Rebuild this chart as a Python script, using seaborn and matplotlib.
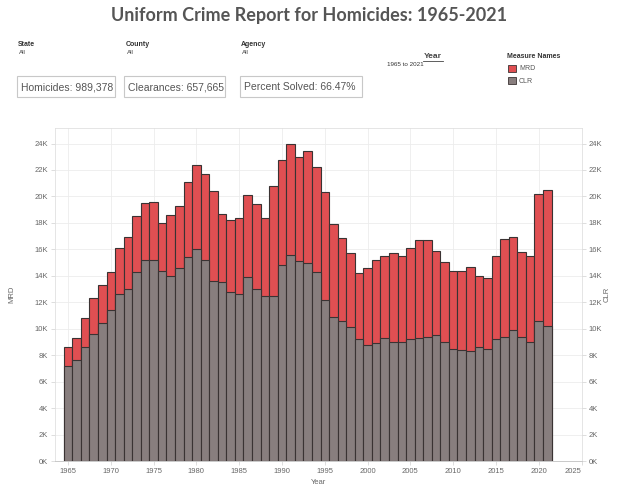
"""
Purpose: Uniform Crime Report homicides vs clearances, 1965-2021
"""

# Dependencies
import numpy as np
import pandas as pd
import seaborn as sns
import matplotlib.pyplot as plt
from matplotlib.patches import Rectangle
from matplotlib.ticker import FuncFormatter

# Data (counts per year)
years = list(range(1965, 2022))
mrd = [8600, 9300, 10800, 12300, 13300, 14300, 16100, 16900, 18500, 19500,
       19600, 18000, 18600, 19300, 21100, 22400, 21700, 20400, 18700, 18200,
       18400, 20100, 19400, 18400, 20800, 22750, 24000, 23000, 23400, 22200,
       20300, 17900, 16850, 15700, 14200, 14600, 15200, 15500, 15700, 15500,
       16100, 16700, 16700, 15900, 15050, 14400, 14400, 14700, 13950, 13800,
       15500, 16800, 16900, 15800, 15500, 20150, 20500]
clr = [7200, 7600, 8600, 9600, 10450, 11400, 12600, 13000, 14300, 15200,
       15200, 14400, 14000, 14600, 15400, 16000, 15200, 13600, 13500, 12750,
       12650, 13900, 13000, 12450, 12450, 14850, 15600, 15100, 15000, 14300,
       12200, 10900, 10600, 10100, 9200, 8750, 8950, 9300, 9000, 9000,
       9200, 9300, 9400, 9500, 9000, 8500, 8400, 8350, 8650, 8500,
       9200, 9400, 9900, 9400, 9000, 10600, 10200]
year_ticks = list(range(1965, 2030, 5))
y_ticks = list(range(0, 26000, 2000))

filters = ['State', 'County', 'Agency']
kpi_labels = ['Homicides: 989,378', 'Clearances: 657,665', 'Percent Solved: 66.47%']
measure_names = ['MRD', 'CLR']

df = pd.DataFrame({'year': years, 'MRD': mrd, 'CLR': clr})

# Colours
red = '#e04f52'
grey = '#887e7e'
edge = '#3a3333'
text_grey = '#666666'

W, H = 618, 494
plt.rcParams['font.family'] = ['Liberation Sans', 'DejaVu Sans']
fig = plt.figure(figsize=(W / 100, H / 100), dpi=100)


def px(x, y):
    return x / W, 1 - y / H


# Title
fig.text(*px(309, 16), 'Uniform Crime Report for Homicides: 1965-2021',
         ha='center', va='center', fontsize=13, fontweight='bold',
         color='#555555', family=['Lato', 'DejaVu Sans'])

# Filter cards
for label, x in zip(filters, [18, 126, 241]):
    fig.text(*px(x, 44), label, ha='left', va='center', fontsize=5,
             fontweight='bold', color='#333333')
    fig.text(*px(x + 1, 52), 'All', ha='left', va='center', fontsize=4.5,
             color='#444444')

# KPI boxes
for label, (x0, x1) in zip(kpi_labels, [(17, 115), (124, 225), (240, 362)]):
    fig.patches.append(Rectangle(px(x0, 97), (x1 - x0) / W, 21 / H,
                                 transform=fig.transFigure, fill=False,
                                 edgecolor='#c8c8c8', linewidth=0.8))
    fig.text(*px(x0 + 4, 87), label, ha='left', va='center', fontsize=7.5,
             color='#555555')

# Year filter
fig.text(*px(433, 57), 'Year', ha='center', va='center', fontsize=6,
         fontweight='bold', color='#444444')
fig.add_artist(plt.Line2D([423 / W, 443 / W], [1 - 61 / H, 1 - 61 / H],
                          color='#444444', linewidth=0.6))
fig.text(*px(387, 65), '1965 to 2021', ha='left', va='center', fontsize=4.5,
         color='#333333')

# Legend
fig.text(*px(507, 57), 'Measure Names', ha='left', va='center', fontsize=5,
         fontweight='bold', color='#333333')
for name, col, y in zip(measure_names, [red, grey], [69, 81]):
    fig.patches.append(Rectangle(px(508, y + 3.5), 7.5 / W, 7 / H,
                                 transform=fig.transFigure, facecolor=col,
                                 edgecolor=edge, linewidth=0.6))
    fig.text(*px(519, y), name, ha='left', va='center', fontsize=5,
             color='#555555')

# Main chart
ax = fig.add_axes([55 / W, 1 - 461 / H, (582 - 55) / W, (461 - 128.3) / H])
sns.barplot(data=df, x='year', y='MRD', native_scale=True, width=1,
            color=red, saturation=1, edgecolor=edge, linewidth=0.8,
            errorbar=None, ax=ax, zorder=2)
sns.barplot(data=df, x='year', y='CLR', native_scale=True, width=1,
            color=grey, saturation=1, edgecolor=edge, linewidth=0.8,
            errorbar=None, ax=ax, zorder=3)

ax.set_xlim(1963.48, 2025.05)
ax.set_ylim(0, 25150)
ax.set_xticks(year_ticks)
ax.set_xticklabels([str(y) for y in year_ticks])
ax.get_xticklabels()[-1].set_horizontalalignment('right')
ax.set_yticks(y_ticks)
kfmt = FuncFormatter(lambda v, p: f'{v / 1000:.0f}K')
ax.yaxis.set_major_formatter(kfmt)
ax.grid(True, color='#ececec', linewidth=0.6, zorder=0)
ax.set_axisbelow(True)
ax.tick_params(axis='both', labelsize=5.5, labelcolor=text_grey,
               color='#d0d0d0', length=3, width=0.5, pad=2)
ax.set_xlabel('Year', fontsize=5.5, color=text_grey, labelpad=3)
ax.set_ylabel('MRD', fontsize=5.5, color=text_grey, labelpad=14)
for side in ['left', 'right', 'top']:
    ax.spines[side].set_color('#e0e0e0')
    ax.spines[side].set_linewidth(0.6)
ax.spines['bottom'].set_color('#c0c0c0')
ax.spines['bottom'].set_linewidth(0.6)

# Right axis (same scale)
ax2 = ax.twinx()
ax2.set_ylim(ax.get_ylim())
ax2.set_yticks(y_ticks)
ax2.yaxis.set_major_formatter(kfmt)
ax2.tick_params(axis='y', labelsize=5.5, labelcolor=text_grey,
                color='#d0d0d0', length=3, width=0.5, pad=2)
ax2.set_ylabel('CLR', fontsize=5.5, color=text_grey, labelpad=1)
for side in ['left', 'right', 'top', 'bottom']:
    ax2.spines[side].set_visible(False)

fig.savefig('out.png', dpi=100)
plt.close()
